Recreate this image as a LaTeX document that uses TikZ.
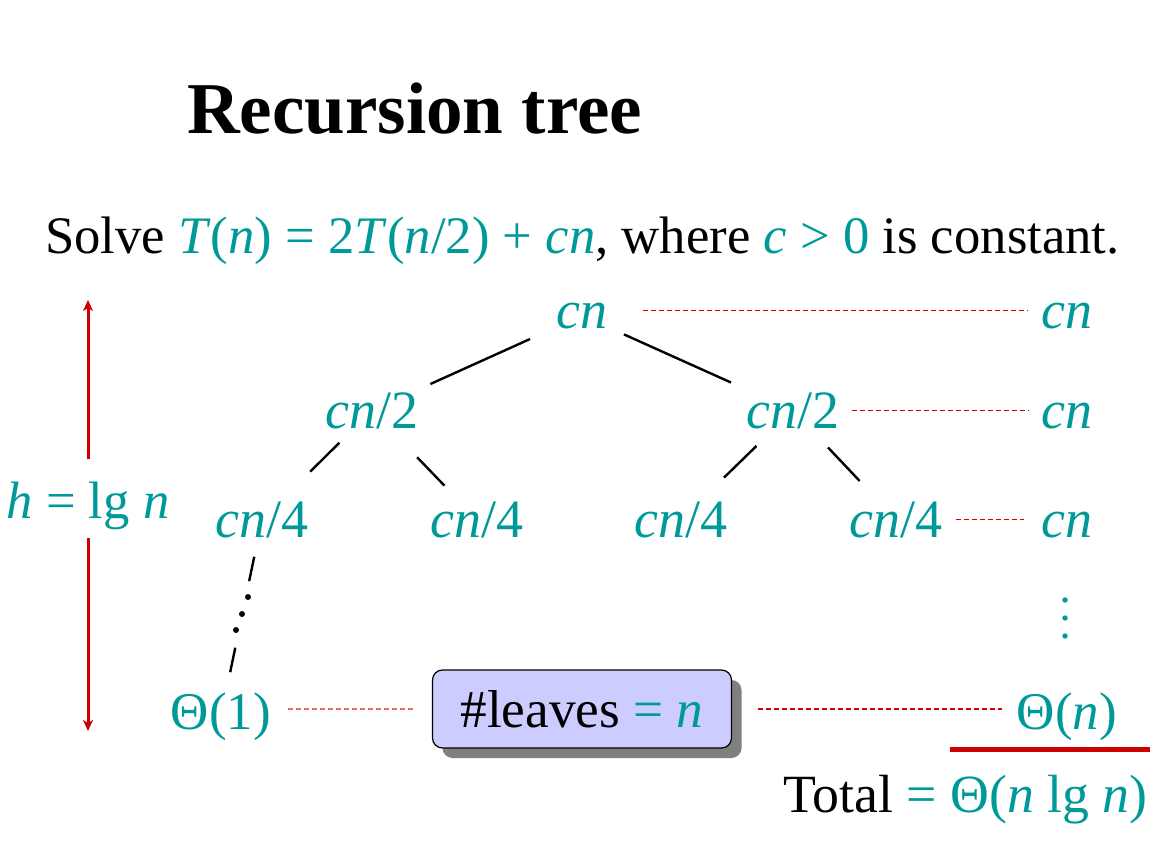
\documentclass[tikz,border=0pt]{standalone}
\usepackage{fontspec}
\setmainfont{Liberation Serif}
\usetikzlibrary{arrows.meta,shadows}
\definecolor{tealc}{RGB}{0,153,153}
\definecolor{redc}{RGB}{204,0,0}
\definecolor{dashc}{RGB}{210,0,0}
\definecolor{pinkc}{RGB}{230,110,110}
\definecolor{boxc}{RGB}{204,204,255}
\begin{document}
\begin{tikzpicture}[x=1pt,y=-1pt,
  lbl/.style={inner sep=0pt,anchor=base,text=tealc,font=\fontsize{54}{60}\selectfont},
  edge/.style={line width=2.4pt,black},
  lvl/.style={dashc,line width=1.1pt,dash pattern=on 5pt off 3pt},
  lvlpale/.style={pinkc,line width=1.1pt,dash pattern=on 5pt off 3pt}]
\useasboundingbox (0,0) rectangle (1171,848);
% title and statement
\node[inner sep=0pt,anchor=base west,font=\fontsize{73}{80}\selectfont\bfseries] (title) at (187,134) {Recursion tree};
\node[inner sep=0pt,anchor=base west,font=\fontsize{52.7}{60}\selectfont] (stmt) at (45,253)
  {Solve {\color{tealc}\textit{T}(\textit{n}) = 2\textit{T}(\textit{n}/2) + \textit{cn}}, where {\color{tealc}\textit{c} > 0} is constant.};
% tree nodes
\node[lbl] (root) at (582,328) {\textit{cn}};
\node[lbl] (l1) at (372,428) {\textit{cn}/2};
\node[lbl] (r1) at (793,428) {\textit{cn}/2};
\node[lbl] (la) at (262,537) {\textit{cn}/4};
\node[lbl] (lb) at (477,537) {\textit{cn}/4};
\node[lbl] (lc) at (681,537) {\textit{cn}/4};
\node[lbl] (ld) at (896,537) {\textit{cn}/4};
\node[lbl,font=\fontsize{53}{60}\selectfont] (th1) at (221,729) {Θ(1)};
% level sums
\node[lbl] (s1) at (1067,328) {\textit{cn}};
\node[lbl] (s2) at (1067,428) {\textit{cn}};
\node[lbl] (s3) at (1067,537) {\textit{cn}};
\node[lbl,font=\fontsize{53}{60}\selectfont] (sn) at (1067,729) {Θ(\textit{n})};
\node[inner sep=0pt,anchor=base east,font=\fontsize{53.8}{60}\selectfont] (total) at (1148,812)
  {Total {\color{tealc}= Θ(\textit{n} lg \textit{n})}};
% leaves box
\node[draw=black,line width=1.2pt,fill=boxc,rounded corners=10pt,minimum width=299pt,minimum height=78pt,
  inner sep=0pt,font=\fontsize{53.3}{60}\selectfont,
  drop shadow={shadow xshift=10pt,shadow yshift=-10pt,fill=black!50,opacity=1}] (box) at (582,709)
  {\raisebox{-6pt}{\#leaves {\color{tealc}= \textit{n}}}};
% height label
\node[lbl,font=\fontsize{52.6}{60}\selectfont] (h) at (88,518) {\textit{h} = lg \textit{n}};
\coordinate (htop) at (88,300);
\coordinate (hbot) at (88,731);
\draw[redc,line width=3pt,-{Stealth[length=11pt,width=10pt,inset=3pt]},shorten <=22pt] (h.north) -- (htop);
\draw[redc,line width=3pt,-{Stealth[length=11pt,width=10pt,inset=3pt]},shorten <=8pt] (h.south) -- (hbot);
% tree edges
\draw[edge,shorten <=57pt,shorten >=64pt] (root.center) -- (l1.center);
\draw[edge,shorten <=46pt,shorten >=68pt] (root.center) -- (r1.center);
\draw[edge,shorten <=46pt,shorten >=68pt] (l1.center) -- (la.center);
\draw[edge,shorten <=65pt,shorten >=47pt] (l1.center) -- (lb.center);
\draw[edge,shorten <=51pt,shorten >=60pt] (r1.center) -- (lc.center);
\draw[edge,shorten <=51pt,shorten >=53pt] (r1.center) -- (ld.center);
% left dotted chain
\draw[edge,shorten <=38pt,shorten >=138pt] (la.center) -- (th1.center);
\draw[edge,shorten <=131pt,shorten >=45pt] (la.center) -- (th1.center);
\fill[black] (248,597) circle (3pt) (242,614) circle (3pt) (236,630) circle (3pt);
% right vdots
\fill[tealc] (1065,600) circle (2.7pt) (1065,618) circle (2.7pt) (1065,636) circle (2.7pt);
% level dashed lines
\draw[lvl,shorten <=35pt,shorten >=13pt] ([yshift=5pt]root.east) -- ([yshift=5pt]root.east -| s1.west);
\draw[lvl,shorten <=12pt,shorten >=13pt] (r1.east) -- (r1.east -| s2.west);
\draw[lvl,shorten <=13pt,shorten >=17pt] (ld.east) -- (ld.east -| s3.west);
\draw[lvlpale,shorten <=17pt,shorten >=19pt] (th1.east |- box.west) -- (box.west);
\draw[lvl,shorten <=26pt,shorten >=15pt] (box.east) -- (box.east -| sn.west);
% underline
\coordinate (ulend) at (1150,749.5);
\draw[redc,line width=5pt] (ulend -| 950,0) -- (ulend);
\end{tikzpicture}
\end{document}
